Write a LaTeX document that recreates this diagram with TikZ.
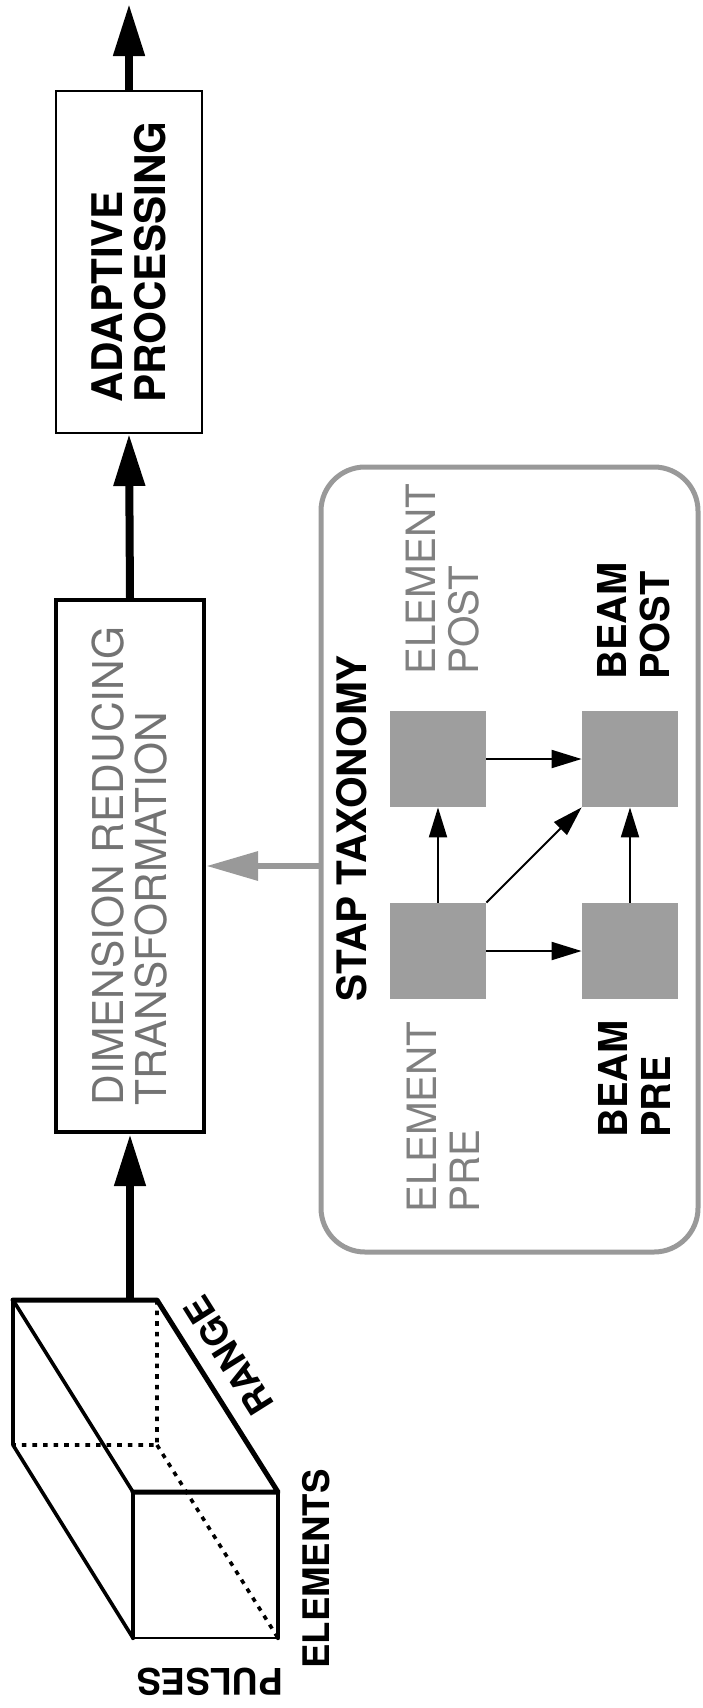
\documentclass[tikz,border=0pt]{standalone}
\usepackage{fontspec}
\setmainfont{TeX Gyre Heros}
\usetikzlibrary{arrows.meta}

\tikzset{
  flow/.style={line width=4pt, -{Triangle[length=26pt,width=15pt]}},
  feed/.style={line width=3.3pt, black!40, -{Triangle[length=26pt,width=14pt]}},
  link/.style={line width=1pt, -{Triangle[length=15pt,width=9pt]}},
  procbox/.style={draw, rotate=90, align=left, inner sep=0pt},
  cell/.style={fill=black!38, minimum size=48pt, inner sep=0pt},
  tag/.style={rotate=90, align=left, inner sep=0pt, font=\fontsize{20.2}{21.5}\selectfont},
  boldtag/.style={tag, font=\bfseries\fontsize{19.9}{21.5}\selectfont},
  axis/.style={inner sep=0pt, font=\bfseries\fontsize{18.3}{20}\selectfont},
  edge/.style={line width=1.8pt, line join=round, line cap=round},
  hidden/.style={line width=1.8pt, dash pattern=on 2.3pt off 3pt}
}

\begin{document}
\begin{tikzpicture}[x=0.5pt, y=-0.5pt]
\useasboundingbox (0,0) rectangle (702,1708);

\node[procbox, line width=1pt, minimum width=171pt, minimum height=73pt,
      font=\bfseries\fontsize{21.1}{21.5}\selectfont] (adapt) at (129,262) {ADAPTIVE\\PROCESSING};
\node[procbox, line width=2.2pt, minimum width=266pt, minimum height=74pt, text=black!55,
      font=\fontsize{21.2}{21.5}\selectfont] (dimred) at (130,866) {DIMENSION REDUCING\\TRANSFORMATION};

\coordinate (out) at (129,4);
\coordinate (cubetop) at (130,1300);
\draw[flow] (adapt.east) -- (out);
\draw[flow] (dimred.east) -- (adapt.west);
\draw[flow] (cubetop) -- (dimred.west);

\coordinate (b1) at (13,1300);
\coordinate (b2) at (157,1300);
\coordinate (b3) at (157,1445);
\coordinate (b4) at (13,1445);
\coordinate (f1) at (133,1492);
\coordinate (f2) at (278,1492);
\coordinate (f3) at (278,1638);
\coordinate (f4) at (133,1638);
\draw[edge, line width=2.5pt] (b1) -- (b2) -- (f2) -- (f1);
\draw[edge] (b1) -- (b4) -- (f4);
\draw[edge] (b1) -- (f1);
\draw[edge, line width=2.2pt] (f1) -- (f4) (f2) -- (f3);
\draw[edge, line width=1.4pt] (f4) -- (f3);
\draw[hidden] (b2) -- (b3) -- (b4) (b3) -- (f3);

\node[axis, rotate=180] (pulses) at (210,1682) {PULSES};
\node[axis, rotate=90] (elements) at (316,1569) {ELEMENTS};
\node[axis, rotate=122.2] (range) at (229,1356) {RANGE};

\node[draw=black!40, line width=2.5pt, rounded corners=22pt,
      minimum width=188.5pt, minimum height=392.5pt] (stap) at (509.5,859.5) {};
\node[rotate=90, inner sep=0pt, font=\bfseries\fontsize{20.3}{21}\selectfont] (staptitle) at (352,828) {STAP TAXONOMY};
\draw[feed] (dimred.south -| stap.west) -- (dimred.south);

\node[cell] (elpost) at (438,759) {};
\node[cell] (bmpost) at (630,759) {};
\node[cell] (elpre) at (438,951) {};
\node[cell] (bmpre) at (630,951) {};
\draw[link] (elpre) -- (elpost);
\draw[link] (elpre) -- (bmpre);
\draw[link] (elpost) -- (bmpost);
\draw[link] (bmpre) -- (bmpost);
\draw[link] (elpre.north east) -- (bmpost.south west);

\node[tag, text=black!50, anchor=west] (elposttag) at (443,675) {ELEMENT\\POST};
\node[boldtag, anchor=west] (bmposttag) at (634,680) {BEAM\\POST};
\node[tag, text=black!50, anchor=east] (elpretag) at (443,1021) {ELEMENT\\PRE};
\node[boldtag, anchor=east] (bmpretag) at (634,1020) {BEAM\\PRE};
\end{tikzpicture}
\end{document}
